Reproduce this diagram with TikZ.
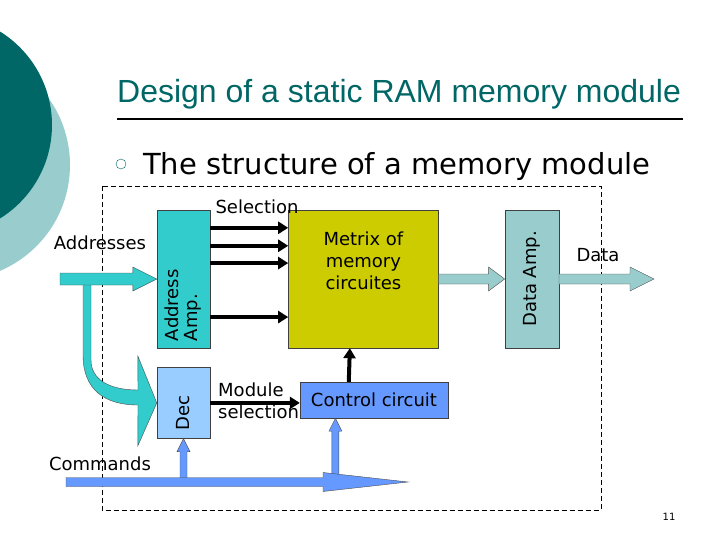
\documentclass[tikz,border=0pt]{standalone}
\usepackage{fontspec}
\usepackage{tikz}
\usetikzlibrary{arrows.meta,calc,positioning}
\newfontfamily\titlefont{Liberation Sans}
\newfontfamily\labelfont{DejaVu Sans}
\definecolor{slidegreen}{RGB}{0,102,102}
\definecolor{palegreen}{RGB}{153,204,204}
\definecolor{ampcyan}{RGB}{51,204,204}
\definecolor{matrixolive}{RGB}{204,204,0}
\definecolor{decblue}{RGB}{153,204,255}
\definecolor{ctrlblue}{RGB}{102,153,255}
\newcommand\lbl{\labelfont\fontsize{18}{22}\selectfont}
\tikzstyle{block} = [rectangle, draw=black!75, thin, inner sep=0pt, font=\lbl]
\tikzstyle{tag} = [font=\lbl, inner sep=0pt]
\tikzstyle{sel} = [->, line width=4pt]
\tikzstyle{fat} = [draw=black!70, thin, line join=miter]
% fat arrow: style, from, to, shaft half, head half, head length
\newcommand\fatarrow[6]{%
  \coordinate (hb) at ($(#3)!#6!(#2)$);
  \draw[fat,#1] ($(#2)!#4!90:(#3)$) -- ($(hb)!#4!90:(#3)$) -- ($(hb)!#5!90:(#3)$)
    -- (#3) -- ($(hb)!#5!-90:(#3)$) -- ($(hb)!#4!-90:(#3)$) -- ($(#2)!#4!-90:(#3)$) -- cycle;}

\begin{document}
\begin{tikzpicture}[x=1pt,y=-1pt,>={Triangle[length=10pt,width=12pt]},node distance=20pt]
  \useasboundingbox (0,0) rectangle (720,540);
  \begin{scope}
    \clip (0,0) rectangle (720,540);
    \fill[palegreen] (-45,165) circle (115pt);
    \fill[slidegreen] (-58,125) circle (110pt);
  \end{scope}

  \node[anchor=base west, inner sep=0pt, text=slidegreen,
        font=\titlefont\fontsize{32}{36}\selectfont] (title) at (117,103) {Design of a static RAM memory module};
  \draw[line width=2pt] (117,119) -- (683,119);
  \draw[slidegreen, thin] (121,164) circle (5pt);
  \node[anchor=base west, inner sep=0pt,
        font=\labelfont\fontsize{29}{34}\selectfont] (sub) at (143,175) {The structure of a memory module};
  \draw[dash pattern=on 5pt off 3pt, thin] (102,186) rectangle (601,510);

  % blocks
  \node[block, fill=ampcyan, minimum width=53pt, minimum height=138pt,
        label={[rotate=90, anchor=west, align=left, font=\labelfont\fontsize{18}{19}\selectfont, inner sep=7pt]south:Address\\Amp.}]
        (1) at (183.5,279) {};
  \node[block, fill=matrixolive, minimum width=150pt, minimum height=138pt, right=78pt of 1,
        label={[align=center, anchor=north, font=\lbl, inner sep=0pt, yshift=-22pt]north:Metrix of\\memory\\circuites}]
        (2) {};
  \node[block, fill=decblue, minimum width=53pt, minimum height=71pt, below=19pt of 1,
        label={[yshift=-10pt, rotate=90, font=\lbl]center:Dec}] (3) {};
  \node[block, fill=palegreen, minimum width=54pt, minimum height=138pt, right=66pt of 2,
        label={[rotate=90, font=\lbl]center:Data Amp.}] (4) {};
  \node[block, fill=ctrlblue, minimum width=148pt, minimum height=36pt] (5) at (374,400) {Control circuit};

  % labels
  \node[tag] (seltag) at (257,207) {Selection};
  \node[tag] (addrtag) at (100,243) {Addresses};
  \node[tag] (cmdtag) at (100,464) {Commands};
  \node[tag] (datatag) at (598,255) {Data};
  \node[tag, align=left, anchor=west] (modtag) at (218,401) {Module\\selection};
  \node[font=\labelfont\fontsize{10}{12}\selectfont] (page) at (669,517) {11};

  % address paths
  \draw[fat, fill=ampcyan] (83,285) -- (83,355) .. controls (83,390) and (105,405) .. (138,405)
    -- ($(3.west)+(-19,43)$) -- (3.west) -- ($(3.west)+(-19,-47)$) -- (138,390)
    .. controls (110,390) and (91,380) .. (91,360) -- (91,285);
  \coordinate (addrin) at (60,279);
  \fatarrow{fill=ampcyan}{addrin}{1.west}{6pt}{12pt}{24pt}

  \foreach \f in {0.13,0.26,0.385,0.775}
    \draw[sel] ($(1.north east)!\f!(1.south east)$) -- ($(2.north west)!\f!(2.south west)$);
  \draw[sel] (3.east) -- (3.east -| 5.west);
  \draw[sel] ($(5.north west)!0.33!(5.north east)$) -- ($(2.south west)!0.41!(2.south east)$);

  % data
  \coordinate (dataout) at (654,279);
  \fatarrow{fill=palegreen}{2.east}{4.west}{5pt}{12pt}{16pt}
  \fatarrow{fill=palegreen}{4.east}{dataout}{5pt}{12pt}{24pt}

  % commands
  \coordinate (cmdin) at (66,482);
  \coordinate (cmdout) at (408,482);
  \coordinate (decfoot) at (3.south |- cmdin);
  \coordinate (ctrlup) at ($(5.south west)!0.24!(5.south east)$);
  \coordinate (ctrlfoot) at (ctrlup |- cmdin);
  \fatarrow{fill=ctrlblue}{decfoot}{3.south}{3.5pt}{6.5pt}{13pt}
  \fatarrow{fill=ctrlblue}{ctrlfoot}{ctrlup}{3.5pt}{6.5pt}{13pt}
  \fatarrow{fill=ctrlblue}{cmdin}{cmdout}{4.5pt}{9.5pt}{85pt}
\end{tikzpicture}
\end{document}
